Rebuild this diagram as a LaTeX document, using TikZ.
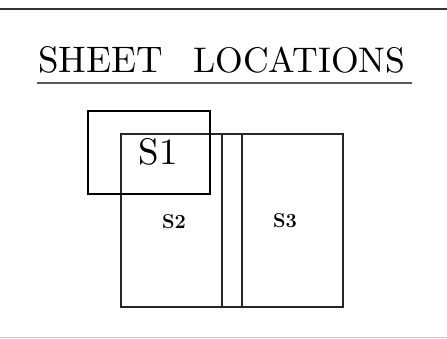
\documentclass[tikz,border=0pt]{standalone}
\usepackage{fontspec}
\begin{document}
\begin{tikzpicture}[x=1pt,y=1pt,
  thinbox/.style={draw=black!85,line width=1.1pt},
  thickbox/.style={draw=black,line width=2.4pt},
  lbl/.style={inner sep=0pt,text=black}]
\useasboundingbox (0,0) rectangle (447,339);
% frame lines
\draw[line width=2.2pt,draw=black!80] (0,330) -- (447,330);
\draw[line width=1pt,draw=black!20] (0,1) -- (447,1);
% title
\node[lbl,anchor=base west] (title1) at (38,266) {\resizebox{125pt}{!}{\fontsize{10}{12}\selectfont\addfontfeatures{FakeBold=1.2}SHEET}};
\node[lbl,anchor=base west] (title2) at (193,266) {\resizebox{212pt}{!}{\fontsize{10}{12}\selectfont\addfontfeatures{FakeBold=1.2}LOCATIONS}};
\draw[line width=1.3pt,draw=black!65] (37,256) -- (412,256);
% sheets
\draw[thinbox] (121,32) rectangle (222,205);
\draw[thinbox] (222,32) rectangle (242,205);
\draw[thinbox] (242,32) rectangle (343,205);
\draw[thickbox] (88,145) rectangle (210,228);
% labels
\node[lbl] (s1) at (158,187) {\scalebox{3.7}{\fontsize{10}{12}\selectfont\addfontfeatures{FakeBold=1.2}S1}};
\node[lbl] (s2) at (174,117) {\fontsize{20}{22}\selectfont\bfseries S2};
\node[lbl] (s3) at (285,118) {\fontsize{20}{22}\selectfont\bfseries S3};
\end{tikzpicture}
\end{document}
